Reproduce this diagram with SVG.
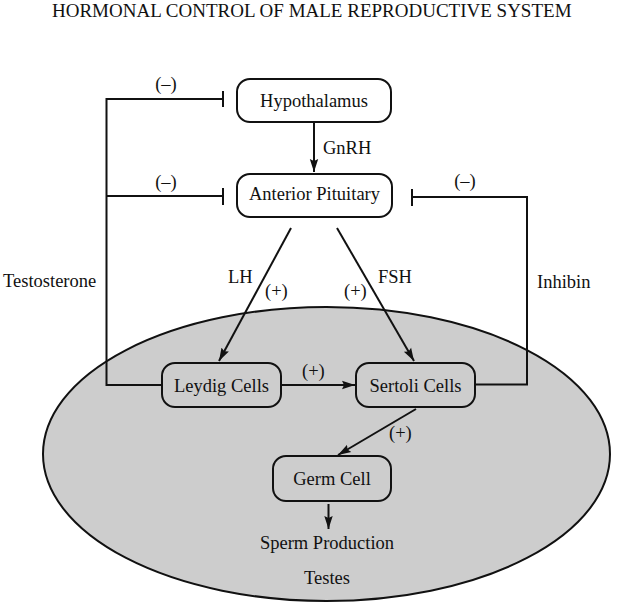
<svg xmlns="http://www.w3.org/2000/svg" width="617" height="609" viewBox="0 0 617 609">
  <style>
    text { font-family: "Liberation Serif", "Times New Roman", serif; font-size: 18.5px; fill: #111; }
    .c { text-anchor: middle; }
    .box { stroke: #111; stroke-width: 2; }
    .wbox { fill: #fff; }
    .gbox { fill: #cdcdcd; }
    .ln { fill: none; stroke: #111; stroke-width: 2; }
  </style>
  <defs>
    <marker id="arr" markerUnits="userSpaceOnUse" markerWidth="14" markerHeight="10" refX="13" refY="5" orient="auto">
      <path d="M0,0.8 L13,5 L0,9.2 L2,5 z" fill="#111"/>
    </marker>
  </defs>

  <text x="52" y="17" style="font-size:19px">HORMONAL CONTROL OF MALE REPRODUCTIVE SYSTEM</text>

  <g id="testes">
    <ellipse cx="326.5" cy="454" rx="283.5" ry="147" fill="#cdcdcd" stroke="#111" stroke-width="2"/>
    <text class="c" x="327" y="584">Testes</text>
  </g>

  <g id="connectors">
    <!-- GnRH -->
    <path class="ln" d="M314,123 V172" marker-end="url(#arr)"/>
    <text x="323" y="154">GnRH</text>
    <!-- Testosterone feedback -->
    <path class="ln" d="M162,385 H106.5 V99 H223 M223,91 V107 M106.5,196 H223 M223,188 V205"/>
    <text x="166" y="90" class="c">(–)</text>
    <text x="166" y="188" class="c">(–)</text>
    <text x="3" y="287">Testosterone</text>
    <!-- Inhibin feedback -->
    <path class="ln" d="M475,384.5 H527 V197 H412 M412,189 V206"/>
    <text x="465" y="187" class="c">(–)</text>
    <text x="537" y="288">Inhibin</text>
    <!-- LH -->
    <path class="ln" d="M291,228 L219,361" marker-end="url(#arr)"/>
    <text x="228" y="283">LH</text>
    <text x="265" y="297">(+)</text>
    <!-- FSH -->
    <path class="ln" d="M337,228 L414,361" marker-end="url(#arr)"/>
    <text x="378" y="283">FSH</text>
    <text x="344" y="297">(+)</text>
    <!-- Leydig to Sertoli -->
    <path class="ln" d="M281,385 H355" marker-end="url(#arr)"/>
    <text x="302" y="377">(+)</text>
    <!-- Sertoli to Germ -->
    <path class="ln" d="M416,409 L338,455" marker-end="url(#arr)"/>
    <text x="389" y="439">(+)</text>
    <!-- Germ to Sperm -->
    <path class="ln" d="M328.5,504 V529" marker-end="url(#arr)"/>
    <text class="c" x="327" y="549">Sperm Production</text>
  </g>

  <g id="hypothalamus">
    <rect class="box wbox" x="237" y="79" width="154" height="43" rx="13"/>
    <text class="c" x="314" y="107">Hypothalamus</text>
  </g>
  <g id="anterior-pituitary">
    <rect class="box wbox" x="237" y="174" width="155" height="43" rx="13"/>
    <text class="c" x="314.5" y="200">Anterior Pituitary</text>
  </g>
  <g id="leydig">
    <rect class="box gbox" x="162" y="363" width="119" height="44" rx="13"/>
    <text class="c" x="221.5" y="392">Leydig Cells</text>
  </g>
  <g id="sertoli">
    <rect class="box gbox" x="356" y="363" width="119" height="44" rx="13"/>
    <text class="c" x="415.5" y="392">Sertoli Cells</text>
  </g>
  <g id="germ-cell">
    <rect class="box gbox" x="273" y="456" width="118" height="45" rx="13"/>
    <text class="c" x="332" y="485">Germ Cell</text>
  </g>
</svg>
